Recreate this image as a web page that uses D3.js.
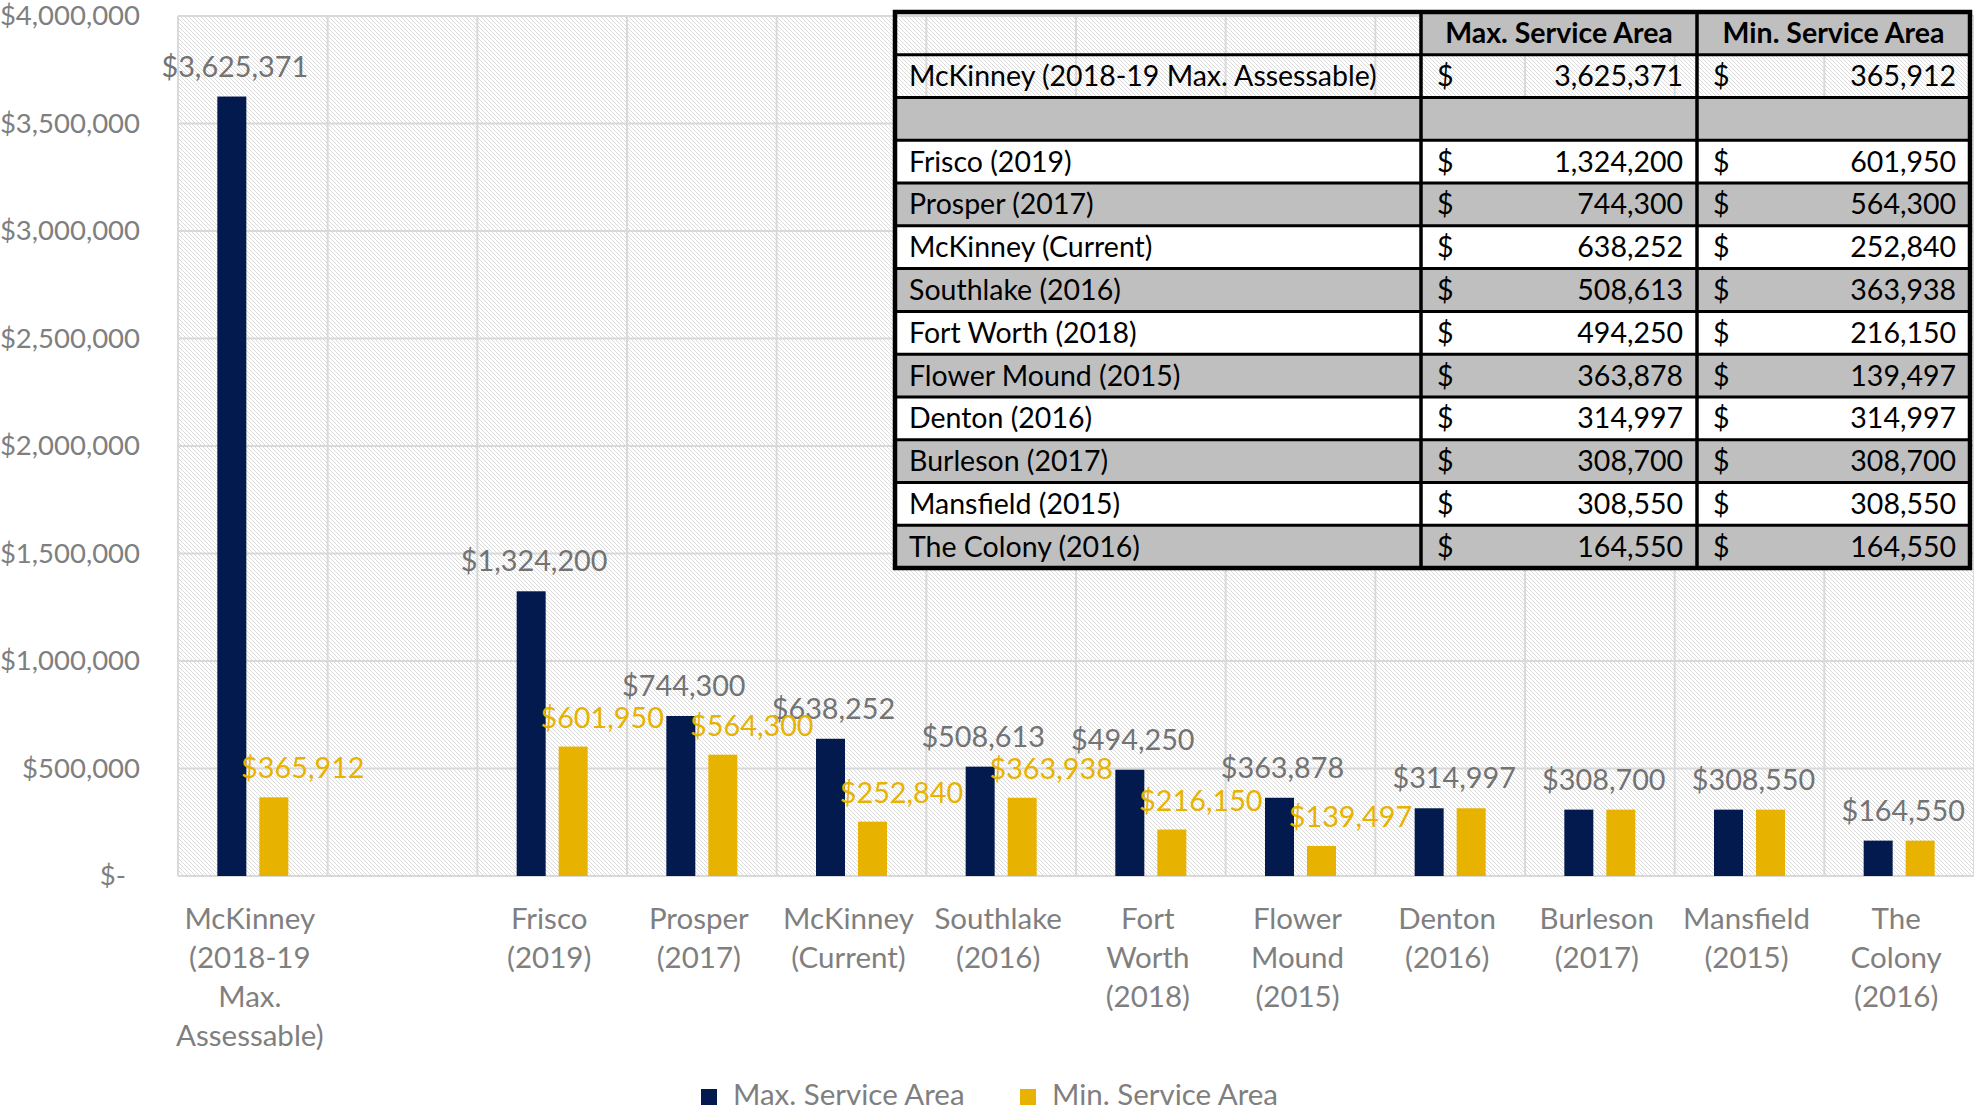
<!DOCTYPE html>
<html>
<head>
<meta charset="utf-8">
<script src="https://cdn.jsdelivr.net/npm/d3@7"></script>
<style>
  html, body { margin: 0; padding: 0; background: #fff; }
  svg { display: block; font-family: Lato, "Open Sans", sans-serif; }
</style>
</head>
<body>
<div id="chart"></div>
<script>
// chart data
const categories = [
  "McKinney (2018-19 Max. Assessable)", "", "Frisco (2019)", "Prosper (2017)",
  "McKinney (Current)", "Southlake (2016)", "Fort Worth (2018)", "Flower Mound (2015)",
  "Denton (2016)", "Burleson (2017)", "Mansfield (2015)", "The Colony (2016)"
];
const tickLabels = [
  "McKinney\n(2018-19\nMax.\nAssessable)", "", "Frisco\n(2019)", "Prosper\n(2017)",
  "McKinney\n(Current)", "Southlake\n(2016)", "Fort\nWorth\n(2018)", "Flower\nMound\n(2015)",
  "Denton\n(2016)", "Burleson\n(2017)", "Mansfield\n(2015)", "The\nColony\n(2016)"
];
const maxArea = [3625371, null, 1324200, 744300, 638252, 508613, 494250, 363878, 314997, 308700, 308550, 164550];
const minArea = [365912, null, 601950, 564300, 252840, 363938, 216150, 139497, 314997, 308700, 308550, 164550];
const seriesNames = ["Max. Service Area", "Min. Service Area"];
const yTicks = [0, 500000, 1000000, 1500000, 2000000, 2500000, 3000000, 3500000, 4000000];

const width = 1974, height = 1109;
const navy = "#021a4d", gold = "#e8b200";
const axisGray = "#7f7f7f", labelGray = "#737373";

const svg = d3.select("#chart").append("svg")
    .attr("width", width)
    .attr("height", height);

const plot = {left: 178, right: 1974, top: 16, bottom: 876};

const x = d3.scaleBand()
    .domain(d3.range(categories.length))
    .range([plot.left, plot.right]);
const half = x.bandwidth() / 2;
const xs = d3.scaleBand()
    .domain(["max", "min"])
    .range([half - 35.5, half + 35.5])
    .paddingInner(0.31);
const y = d3.scaleLinear()
    .domain([0, 4000000])
    .range([plot.bottom, plot.top]);

// hatch background
const defs = svg.append("defs");
const pat = defs.append("pattern")
    .attr("id", "hatch")
    .attr("patternUnits", "userSpaceOnUse")
    .attr("width", 4).attr("height", 4);
pat.append("rect").attr("width", 4).attr("height", 4).attr("fill", "#fff");
pat.append("path")
    .attr("d", "M-1,-1L5,5M-1,3L1,5M3,-1L5,1")
    .attr("stroke", "#d6d6d6")
    .attr("stroke-width", 0.9);

svg.append("rect")
    .attr("x", plot.left).attr("y", plot.top)
    .attr("width", plot.right - plot.left)
    .attr("height", plot.bottom - plot.top)
    .attr("fill", "url(#hatch)");

// grid lines
const grid = svg.append("g").attr("stroke", "#d9d9d9").attr("stroke-width", 2);
grid.selectAll("line.h")
    .data(yTicks)
    .join("line")
    .attr("class", "h")
    .attr("x1", plot.left).attr("x2", plot.right)
    .attr("y1", d => y(d)).attr("y2", d => y(d));
grid.selectAll("line.v")
    .data(d3.range(categories.length + 1))
    .join("line")
    .attr("class", "v")
    .attr("x1", i => i < categories.length ? x(i) : plot.right)
    .attr("x2", i => i < categories.length ? x(i) : plot.right)
    .attr("y1", plot.top).attr("y2", plot.bottom);

// Y axis
const fmt = d3.format("$,");
const yAxis = svg.append("g")
    .attr("transform", `translate(${plot.left},0)`)
    .call(d3.axisLeft(y).tickValues(yTicks).tickSize(0).tickPadding(38)
        .tickFormat(d => d === 0 ? "$-" : fmt(d)));
yAxis.select(".domain").remove();
yAxis.selectAll("text")
    .attr("fill", axisGray)
    .attr("font-size", 27.5)
    .attr("font-family", "Lato, sans-serif")
    .attr("dx", d => d === 0 ? -14 : 0);

// bars
const rows = categories.map((c, i) => ({i, max: maxArea[i], min: minArea[i]}))
    .filter(d => d.max != null);

const bars = svg.append("g");
bars.selectAll("rect.max")
    .data(rows)
    .join("rect")
    .attr("x", d => x(d.i) + xs("max"))
    .attr("width", xs.bandwidth())
    .attr("y", d => y(d.max))
    .attr("height", d => y(0) - y(d.max))
    .attr("fill", navy);
bars.selectAll("rect.min")
    .data(rows)
    .join("rect")
    .attr("x", d => x(d.i) + xs("min"))
    .attr("width", xs.bandwidth())
    .attr("y", d => y(d.min))
    .attr("height", d => y(0) - y(d.min))
    .attr("fill", gold);

// data labels
const labels = svg.append("g")
    .attr("font-size", 28.8)
    .attr("text-anchor", "middle");
labels.selectAll("text.max")
    .data(rows)
    .join("text")
    .attr("x", d => d.max === d.min ? x(d.i) + half + 4 : x(d.i) + xs("max") + xs.bandwidth() / 2 + 3)
    .attr("y", d => y(d.max) - 30)
    .attr("dy", "0.35em")
    .attr("fill", labelGray)
    .text(d => fmt(d.max));
labels.selectAll("text.min")
    .data(rows.filter(d => d.max !== d.min))
    .join("text")
    .attr("x", d => x(d.i) + xs("min") + xs.bandwidth() / 2 + 29)
    .attr("y", d => y(d.min) - 29)
    .attr("dy", "0.35em")
    .attr("fill", gold)
    .text(d => fmt(d.min));

// category labels
const xl = svg.append("g")
    .attr("font-size", 29.5)
    .attr("fill", axisGray)
    .attr("text-anchor", "middle");
xl.selectAll("text")
    .data(tickLabels.map((t, i) => ({i, lines: t ? t.split("\n") : []})))
    .join("text")
    .attr("transform", d => `translate(${x(d.i) + half - 3},919)`)
    .selectAll("tspan")
    .data(d => d.lines)
    .join("tspan")
    .attr("x", 0)
    .attr("y", (d, k) => k * 39)
    .attr("dy", "0.35em")
    .text(d => d);

// data table
const tCols = [895, 1421, 1697, 1970];
const tTop = 12, tBottom = 568;
const rowH = (tBottom - tTop) / (categories.length + 1);
const table = svg.append("g").attr("font-size", 28.5);

function rowFill(r) {
    if (r === 0) return "none";
    return r % 2 === 1 ? "#bfbfbf" : "#fff";
}
// header
table.append("rect")
    .attr("x", tCols[1]).attr("y", tTop)
    .attr("width", tCols[3] - tCols[1]).attr("height", rowH)
    .attr("fill", "#bfbfbf");
seriesNames.forEach((s, k) => {
    table.append("text")
        .attr("x", (tCols[k + 1] + tCols[k + 2]) / 2)
        .attr("y", tTop + rowH / 2)
        .attr("dy", "0.35em")
        .attr("text-anchor", "middle")
        .attr("font-weight", "bold")
        .attr("fill", "#000")
        .text(s);
});
const tRows = table.selectAll("g.row")
    .data(categories.map((c, r) => ({r, name: c, max: maxArea[r], min: minArea[r]})))
    .join("g")
    .attr("transform", d => `translate(0,${tTop + rowH * (d.r + 1)})`);
tRows.append("rect")
    .attr("x", tCols[0]).attr("width", tCols[3] - tCols[0])
    .attr("height", rowH)
    .attr("fill", d => rowFill(d.r));
tRows.append("text")
    .attr("x", tCols[0] + 14).attr("y", rowH / 2).attr("dy", "0.35em")
    .text(d => d.name);
[["max", 1], ["min", 2]].forEach(([key, c]) => {
    const cell = tRows.filter(d => d[key] != null);
    cell.append("text")
        .attr("x", tCols[c] + 16).attr("y", rowH / 2).attr("dy", "0.35em")
        .text("$");
    cell.append("text")
        .attr("x", tCols[c + 1] - 14).attr("y", rowH / 2).attr("dy", "0.35em")
        .attr("text-anchor", "end")
        .text(d => d3.format(",")(d[key]));
});
// borders
table.selectAll("line.rowline")
    .data(d3.range(1, categories.length + 1))
    .join("line")
    .attr("x1", tCols[0]).attr("x2", tCols[3])
    .attr("y1", r => tTop + rowH * r).attr("y2", r => tTop + rowH * r)
    .attr("stroke", "#000").attr("stroke-width", 3);
table.selectAll("line.colline")
    .data([tCols[1], tCols[2]])
    .join("line")
    .attr("x1", d => d).attr("x2", d => d)
    .attr("y1", tTop).attr("y2", tBottom)
    .attr("stroke", "#000").attr("stroke-width", 3.5);
table.append("rect")
    .attr("x", tCols[0]).attr("y", tTop)
    .attr("width", tCols[3] - tCols[0]).attr("height", tBottom - tTop)
    .attr("fill", "none").attr("stroke", "#000").attr("stroke-width", 4.5);

// legend
const legend = svg.append("g")
    .attr("font-size", 29.5)
    .attr("fill", axisGray);
const legendX = [701, 1020];
seriesNames.forEach((s, k) => {
    legend.append("rect")
        .attr("x", legendX[k]).attr("y", 1089)
        .attr("width", 16).attr("height", 16)
        .attr("fill", k === 0 ? navy : gold);
    legend.append("text")
        .attr("x", legendX[k] + 32).attr("y", 1095).attr("dy", "0.35em")
        .text(s);
});
</script>
</body>
</html>
